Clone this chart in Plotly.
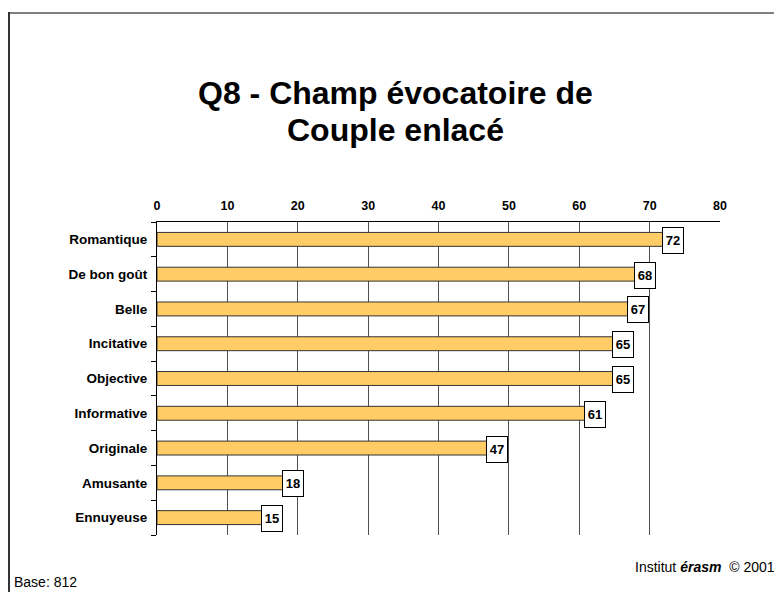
import plotly.graph_objects as go

categories = ["Romantique", "De bon goût", "Belle", "Incitative", "Objective",
              "Informative", "Originale", "Amusante", "Ennuyeuse"]
values = [72, 68, 67, 65, 65, 61, 47, 18, 15]
x_ticks = [0, 10, 20, 30, 40, 50, 60, 70, 80]

title_line1 = "<b>Q8 - Champ évocatoire de</b>"
title_line2 = "<b>Couple enlacé</b>"
base_text = "Base: 812"
credit_text = "Institut <b><i>érasm</i></b>  © 2001"

FONT = "Liberation Sans, Arial, sans-serif"

# The page body has an 8px margin: figure is drawn at page offset (8, 8)
OFF = 8
W, H = 782 - OFF, 592 - OFF
L, R, T, B = 157 - OFF, 62, 222 - OFF, 57
plot_w = W - L - R
plot_h = H - T - B


def px_x(px):  # page pixel -> paper x
    return (px - 157) / plot_w


def px_y(py):  # page pixel -> paper y
    return (535 - py) / plot_h


fig = go.Figure()
fig.add_trace(go.Bar(
    y=categories, x=values, orientation="h", width=0.4,
    marker=dict(color="#FFCC66", line=dict(color="#333333", width=1)),
    hoverinfo="skip", showlegend=False,
))

anns = []
for c, v in zip(categories, values):
    anns.append(dict(
        x=v, y=c, xref="x", yref="y", text=f"<b>{v}</b>",
        showarrow=False, xanchor="left", yanchor="middle", xshift=-2, yshift=-1,
        width=20, height=25, align="center", valign="middle",
        bordercolor="#000000", borderwidth=1, borderpad=0, bgcolor="#FFFFFF",
        font=dict(family=FONT, size=13, color="#000000"),
    ))

anns.append(dict(x=px_x(395), y=px_y(93), xref="paper", yref="paper", text=title_line1,
                 showarrow=False, xanchor="center", yanchor="middle",
                 font=dict(family=FONT, size=32, color="#000000")))
anns.append(dict(x=px_x(395), y=px_y(130), xref="paper", yref="paper", text=title_line2,
                 showarrow=False, xanchor="center", yanchor="middle",
                 font=dict(family=FONT, size=32, color="#000000")))
anns.append(dict(x=px_x(12), y=px_y(582), xref="paper", yref="paper", text=base_text,
                 showarrow=False, xanchor="left", yanchor="middle",
                 font=dict(family=FONT, size=14, color="#000000")))
anns.append(dict(x=px_x(777), y=px_y(567), xref="paper", yref="paper", text=credit_text,
                 showarrow=False, xanchor="right", yanchor="middle",
                 font=dict(family=FONT, size=14, color="#000000")))

fig.update_layout(
    width=W, height=H,
    paper_bgcolor="#FFFFFF", plot_bgcolor="#FFFFFF",
    margin=dict(l=L, r=R, t=T, b=B, autoexpand=False),
    annotations=anns,
)

fig.update_xaxes(
    side="top", range=[0, 80], tickvals=x_ticks,
    ticktext=[f"<b>{t}</b>" for t in x_ticks],
    tickfont=dict(family=FONT, size=12.5, color="#000000"),
    showgrid=True, gridcolor="#505050", gridwidth=1,
    showline=True, linecolor="#000000", linewidth=1,
    ticks="", zeroline=False, fixedrange=True, ticklabelstandoff=6,
)
fig.update_yaxes(
    autorange="reversed",
    ticktext=[f"<b>{c}</b>" for c in categories], tickvals=categories,
    tickfont=dict(family=FONT, size=13.5, color="#000000"),
    showline=True, linecolor="#000000", linewidth=1,
    ticks="outside", ticklen=5, tickcolor="#000000", tickson="boundaries",
    showgrid=False, ticklabelstandoff=6, fixedrange=True,
)

# outer frame (top and left edges)
fig.add_shape(type="line", xref="paper", yref="paper",
              x0=px_x(8), x1=px_x(790), y0=px_y(13), y1=px_y(13),
              line=dict(color="#808080", width=2))
fig.add_shape(type="line", xref="paper", yref="paper",
              x0=px_x(9), x1=px_x(9), y0=px_y(12), y1=px_y(600),
              line=dict(color="#333333", width=2))

fig.write_html("out.html")
